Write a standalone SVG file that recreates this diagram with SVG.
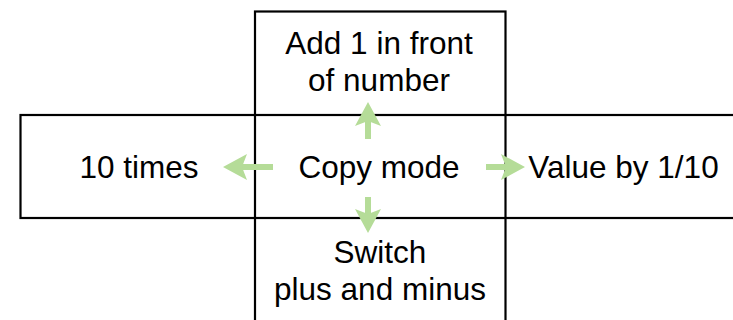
<svg xmlns="http://www.w3.org/2000/svg" width="733" height="320" viewBox="0 0 733 320">
  <style>
    .box { fill: none; stroke: #000; stroke-width: 2.2; }
    .lbl { font-family: "Liberation Sans", Arial, Helvetica, sans-serif; font-size: 31.5px; fill: #000; text-anchor: middle; }
    .arr { stroke: #b5dc98; stroke-width: 6; fill: none; marker-end: url(#head); }
  </style>
  <defs>
    <marker id="head" markerUnits="userSpaceOnUse" viewBox="0 -13 24 26" markerWidth="24" markerHeight="26" refX="5" refY="0" orient="auto">
      <path d="M0,-13 L24,0 L0,13 L5,0 Z" fill="#b5dc98"/>
    </marker>
  </defs>
  <rect width="733" height="320" fill="#fff"/>
  <g id="horizontal-box">
    <rect class="box" x="20.5" y="115" width="740" height="103"/>
  </g>
  <g id="vertical-box">
    <rect class="box" x="255" y="11.5" width="250.5" height="330"/>
  </g>
  <g id="node-top">
    <text class="lbl" x="379" y="54">Add 1 in front</text>
    <text class="lbl" x="379" y="91">of number</text>
  </g>
  <g id="node-center">
    <text class="lbl" x="379" y="178">Copy mode</text>
  </g>
  <g id="node-left">
    <text class="lbl" x="139" y="178">10 times</text>
  </g>
  <g id="node-right">
    <text class="lbl" x="623.5" y="178">Value by 1/10</text>
  </g>
  <g id="node-bottom">
    <text class="lbl" x="380" y="263">Switch</text>
    <text class="lbl" x="380" y="300">plus and minus</text>
  </g>
  <g id="connectors">
    <line class="arr" x1="368" y1="139" x2="368" y2="121"/>
    <line class="arr" x1="273" y1="167" x2="242" y2="167"/>
    <line class="arr" x1="486" y1="167" x2="506" y2="167"/>
    <line class="arr" x1="368" y1="197" x2="368" y2="214"/>
  </g>
</svg>
